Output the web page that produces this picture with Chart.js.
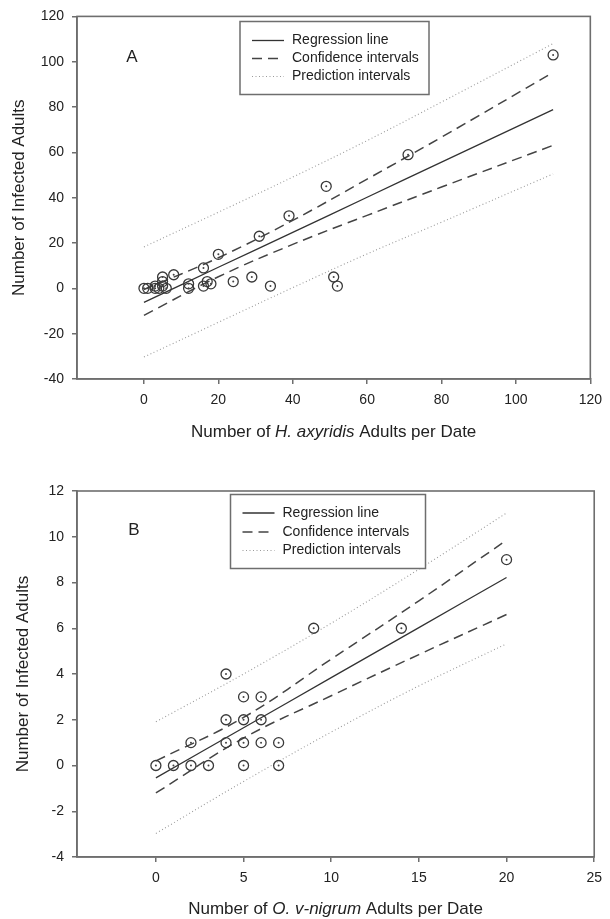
<!DOCTYPE html>
<html>
<head>
<meta charset="utf-8">
<script src="https://cdn.jsdelivr.net/npm/chart.js@4.4.0/dist/chart.umd.min.js"></script>
<style>
  html, body { margin: 0; padding: 0; background: #fff; }
  canvas { display: block; }
</style>
</head>
<body>
<canvas id="chartA" width="610" height="460"></canvas>
<canvas id="chartB" width="610" height="459"></canvas>
<script>
// panel A - H. axyridis
const hxAdults   = [0, 1, 3, 3, 4, 5, 5, 5, 6, 8, 12, 12, 16, 16, 17, 18, 20, 24, 29, 31, 34, 39, 49, 51, 52, 71, 110];
const hxInfected = [0, 0, 1, 0, 0, 1, 3, 5, 0, 6, 2, 0, 9, 1, 3, 2, 15, 3, 5, 23, 1, 32, 45, 5, 1, 59, 103];
const hxLineX      = [0, 20, 40, 60, 80, 110];
const hxRegression = [-6.2, 9.3, 24.7, 40.2, 55.7, 78.9];
const hxCiUpper    = [-0.5, 13.5, 30.0, 48.2, 66.7, 95.3];
const hxCiLower    = [-11.9, 5.1, 19.4, 32.2, 44.7, 63.1];
const hxPiUpper    = [18.3, 33.6, 49.1, 65.2, 82.2, 108.0];
const hxPiLower    = [-30.3, -15.0, 0.3, 15.2, 29.2, 50.5];
const hxTicksX = [0, 20, 40, 60, 80, 100, 120];
const hxTicksY = [-40, -20, 0, 20, 40, 60, 80, 100, 120];

// panel B - O. v-nigrum
const ovAdults   = [0, 1, 2, 3, 2, 4, 4, 4, 5, 5, 5, 5, 6, 6, 6, 7, 7, 9, 14, 20];
const ovInfected = [0, 0, 0, 0, 1, 4, 2, 1, 3, 2, 1, 0, 3, 2, 1, 1, 0, 6, 6, 9];
const ovLineX      = [0, 5, 10, 15, 20];
const ovRegression = [-0.54, 1.65, 3.84, 6.03, 8.22];
const ovCiUpper    = [0.2, 2.1, 4.65, 7.2, 9.85];
const ovCiLower    = [-1.2, 1.2, 3.05, 4.85, 6.6];
const ovPiUpper    = [1.91, 4.0, 6.22, 8.58, 11.04];
const ovPiLower    = [-2.97, -0.7, 1.46, 3.48, 5.32];
const ovTicksX = [0, 5, 10, 15, 20, 25];
const ovTicksY = [-4, -2, 0, 2, 4, 6, 8, 10, 12];

const legendLabels = ['Regression line', 'Confidence intervals', 'Prediction intervals'];

const FONT = "'Liberation Sans', Arial, Helvetica, sans-serif";
Chart.defaults.font.family = FONT;
Chart.defaults.color = '#222';

function pairs(xs, ys) {
  return xs.map((x, i) => ({ x: x, y: ys[i] }));
}

// frame, panel letter, x title with italic part, boxed legend
const panelDecor = {
  id: 'panelDecor',
  afterDatasetsDraw(chart, args, opts) {
    const ctx = chart.ctx;
    const a = chart.chartArea;
    ctx.save();
    ctx.strokeStyle = '#6e6e6e';
    ctx.lineWidth = 1.6;
    ctx.strokeRect(a.left, a.top, a.right - a.left, a.bottom - a.top);

    ctx.fillStyle = '#222';
    ctx.textBaseline = 'middle';
    ctx.textAlign = 'center';
    ctx.font = '17px ' + FONT;
    ctx.fillText(opts.letter, opts.letterPos[0], opts.letterPos[1]);

    // x axis title
    const parts = opts.xTitle;
    let total = 0;
    parts.forEach(p => {
      ctx.font = (p.italic ? 'italic ' : '') + opts.titleSize + 'px ' + FONT;
      total += ctx.measureText(p.text).width;
    });
    let tx = (a.left + a.right) / 2 - total / 2;
    const ty = a.bottom + opts.xTitleOffset;
    ctx.textAlign = 'left';
    parts.forEach(p => {
      ctx.font = (p.italic ? 'italic ' : '') + opts.titleSize + 'px ' + FONT;
      ctx.fillText(p.text, tx, ty);
      tx += ctx.measureText(p.text).width;
    });

    // legend
    const [bx, by, bw, bh] = opts.legendBox;
    ctx.fillStyle = '#fff';
    ctx.fillRect(bx, by, bw, bh);
    ctx.strokeStyle = '#6e6e6e';
    ctx.lineWidth = 1.5;
    ctx.strokeRect(bx, by, bw, bh);
    ctx.font = '14px ' + FONT;
    opts.legendRows.forEach((row, i) => {
      const ds = chart.data.datasets[row];
      const y = by + opts.rowY[i];
      ctx.beginPath();
      ctx.setLineDash(ds.borderDash || []);
      ctx.strokeStyle = ds.borderColor;
      ctx.lineWidth = ds.borderWidth;
      ctx.moveTo(bx + 12, y);
      ctx.lineTo(bx + 44, y);
      ctx.stroke();
      ctx.setLineDash([]);
      ctx.fillStyle = '#222';
      ctx.fillText(ds.label, bx + 52, y);
    });
    ctx.restore();
  }
};

function makePanel(id, p) {
  const lineDs = (label, ys, style) => Object.assign({
    label: label,
    data: pairs(p.lineX, ys),
    showLine: true,
    pointRadius: 0,
    fill: false,
    tension: 0.4
  }, style);
  const solid = { borderColor: '#333', borderWidth: 1.3 };
  const dashed = { borderColor: '#444', borderWidth: 1.5, borderDash: [10, 6] };
  const dotted = { borderColor: '#9a9a9a', borderWidth: 1.1, borderDash: [1, 2.5] };

  const datasets = [
    { label: 'dots', data: pairs(p.xs, p.ys), pointRadius: 1, pointBackgroundColor: '#444', pointBorderWidth: 0, showLine: false },
    { label: 'points', data: pairs(p.xs, p.ys), pointRadius: 5, pointBorderWidth: 1.3, pointBorderColor: '#3a3a3a', pointBackgroundColor: 'rgba(0,0,0,0)', showLine: false },
    lineDs(legendLabels[0], p.reg, solid),
    lineDs(legendLabels[1], p.ciUp, dashed),
    lineDs(legendLabels[1], p.ciLo, dashed),
    lineDs(legendLabels[2], p.piUp, dotted),
    lineDs(legendLabels[2], p.piLo, dotted)
  ];

  const tickGrid = { display: true, drawOnChartArea: false, drawTicks: true, tickLength: 5, color: '#6e6e6e', lineWidth: 1.5 };

  return new Chart(document.getElementById(id), {
    type: 'scatter',
    data: { datasets: datasets },
    options: {
      responsive: false,
      animation: false,
      events: [],
      layout: { padding: p.padding },
      plugins: {
        legend: { display: false },
        tooltip: { enabled: false },
        panelDecor: {
          letter: p.letter,
          letterPos: p.letterPos,
          xTitle: p.xTitle,
          titleSize: 17,
          xTitleOffset: p.xTitleOffset,
          legendBox: p.legendBox,
          rowY: p.rowY,
          legendRows: [2, 3, 5]
        }
      },
      scales: {
        x: {
          type: 'linear',
          min: p.xMin, max: p.xMax,
          grid: tickGrid,
          border: { display: true, color: '#6e6e6e', width: 1.6 },
          ticks: { font: { size: 14 }, padding: 8, maxRotation: 0, color: '#222' },
          afterBuildTicks: s => { s.ticks = p.ticksX.map(v => ({ value: v })); },
          afterFit: s => { s.height = p.xHeight; }
        },
        y: {
          type: 'linear',
          min: p.yMin, max: p.yMax,
          grid: tickGrid,
          border: { display: true, color: '#6e6e6e', width: 1.6 },
          ticks: { font: { size: 14 }, padding: 8, color: '#222' },
          afterBuildTicks: s => { s.ticks = p.ticksY.map(v => ({ value: v })); },
          afterFit: s => { s.width = 77; },
          title: {
            display: true,
            text: 'Number of Infected Adults',
            font: { size: 17 },
            color: '#222',
            padding: { top: p.yTitlePad, bottom: 0 }
          }
        }
      }
    },
    plugins: [panelDecor]
  });
}

makePanel('chartA', {
  xs: hxAdults, ys: hxInfected, lineX: hxLineX,
  reg: hxRegression, ciUp: hxCiUpper, ciLo: hxCiLower, piUp: hxPiUpper, piLo: hxPiLower,
  ticksX: hxTicksX, ticksY: hxTicksY,
  xMin: -18, xMax: 120, yMin: -40, yMax: 120,
  padding: { top: 16, right: 13, bottom: 0, left: 0 },
  xHeight: 81, yTitlePad: 9,
  letter: 'A', letterPos: [132, 57],
  xTitle: [{ text: 'Number of ' }, { text: 'H. axyridis', italic: true }, { text: ' Adults per Date' }],
  xTitleOffset: 53,
  legendBox: [240, 21.5, 189, 73], rowY: [19, 37, 55]
});

makePanel('chartB', {
  xs: ovAdults, ys: ovInfected, lineX: ovLineX,
  reg: ovRegression, ciUp: ovCiUpper, ciLo: ovCiLower, piUp: ovPiUpper, piLo: ovPiLower,
  ticksX: ovTicksX, ticksY: ovTicksY,
  xMin: -4.5, xMax: 25, yMin: -4, yMax: 12,
  padding: { top: 31, right: 11, bottom: 0, left: 0 },
  xHeight: 62, yTitlePad: 13,
  letter: 'B', letterPos: [134, 70],
  xTitle: [{ text: 'Number of ' }, { text: 'O. v-nigrum', italic: true }, { text: ' Adults per Date' }],
  xTitleOffset: 52,
  legendBox: [230.5, 34.5, 195, 74], rowY: [18.5, 37.5, 56]
});
</script>
</body>
</html>
